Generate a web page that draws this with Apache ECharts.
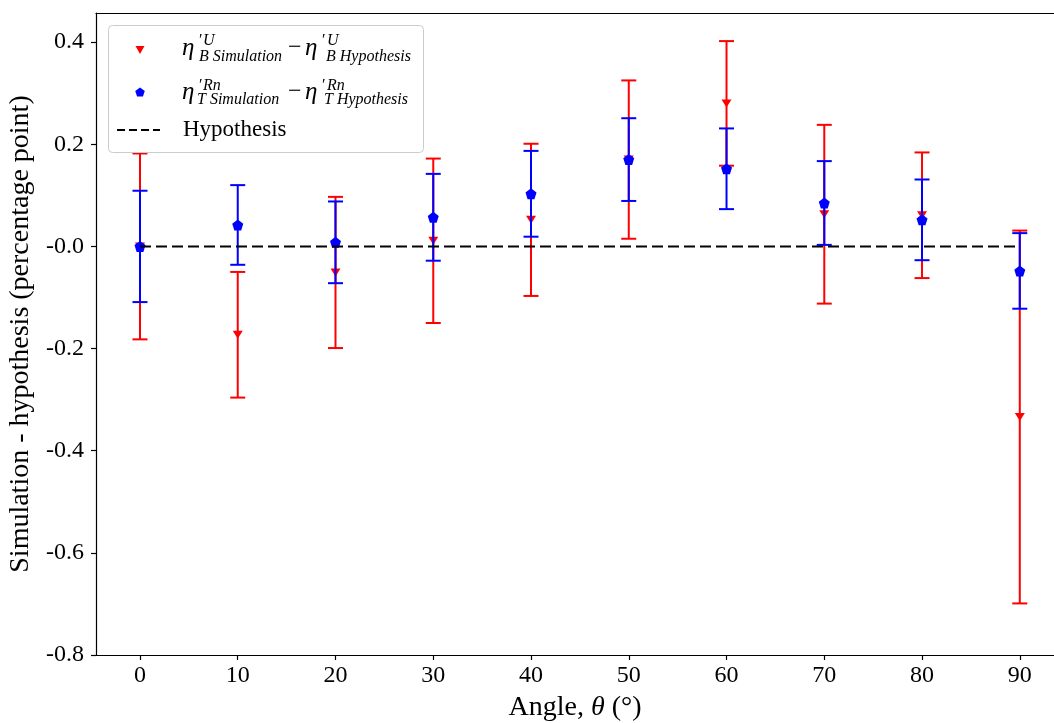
<!DOCTYPE html>
<html>
<head>
<meta charset="utf-8">
<script src="https://cdn.jsdelivr.net/npm/echarts@6/dist/echarts.min.js"></script>
<style>
html,body{margin:0;padding:0;background:#fff;}
#chart{width:1054px;height:723px;}
</style>
</head>
<body>
<div id="chart"></div>
<script>
// ---- data ----
const angles = [0, 10, 20, 30, 40, 50, 60, 70, 80, 90];
const uValues = [0.000, -0.173, -0.051, 0.011, 0.052, 0.170, 0.280, 0.063, 0.061, -0.334];
const uErrors = [0.182, 0.123, 0.148, 0.161, 0.149, 0.155, 0.122, 0.175, 0.123, 0.365];
const rnValues = [0.000, 0.042, 0.008, 0.057, 0.103, 0.170, 0.152, 0.085, 0.052, -0.048];
const rnErrors = [0.109, 0.078, 0.080, 0.085, 0.084, 0.081, 0.079, 0.082, 0.079, 0.074];
const hypothesisAngles = [0, 90];
const hypothesisValues = [0, 0];
const yTickValues = [-0.8, -0.6, -0.4, -0.2, 0, 0.2, 0.4];
const yTickLabels = ['-0.8', '-0.6', '-0.4', '-0.2', '-0.0', '0.2', '0.4'];
const xTickValues = [0, 10, 20, 30, 40, 50, 60, 70, 80, 90];

const FONT = '"Liberation Serif", "DejaVu Serif", serif';
const RED = '#ff0000';
const BLUE = '#0000ff';
const PENTAGON = 'path://M0,-1 L0.951,-0.309 L0.588,0.809 L-0.588,0.809 L-0.951,-0.309 Z';

function errData(vals, errs) {
  return angles.map((a, i) => [a, vals[i] - errs[i], vals[i] + errs[i]]);
}
function errRender(color) {
  return function (params, api) {
    const x = api.value(0);
    const lo = api.coord([x, api.value(1)]);
    const hi = api.coord([x, api.value(2)]);
    const hw = 7.5;
    const st = { stroke: color, lineWidth: 2 };
    return {
      type: 'group',
      children: [
        { type: 'line', shape: { x1: lo[0], y1: lo[1], x2: hi[0], y2: hi[1] }, style: st },
        { type: 'line', shape: { x1: lo[0] - hw, y1: lo[1], x2: lo[0] + hw, y2: lo[1] }, style: st },
        { type: 'line', shape: { x1: hi[0] - hw, y1: hi[1], x2: hi[0] + hw, y2: hi[1] }, style: st }
      ]
    };
  };
}

const chart = echarts.init(document.getElementById('chart'), null, { renderer: 'canvas' });

function txt(x, y, text, size, italic, align) {
  return {
    type: 'text', x: x, y: y, z: 101,
    style: {
      text: text, fill: '#000',
      font: (italic ? 'italic ' : '') + size + 'px ' + FONT,
      verticalAlign: 'middle', align: align || 'left'
    }
  };
}

function pentagonPoints(cx, cy, r) {
  const pts = [];
  for (let k = 0; k < 5; k++) {
    const a = -Math.PI / 2 + k * 2 * Math.PI / 5;
    pts.push([cx + r * Math.cos(a), cy + r * Math.sin(a)]);
  }
  return pts;
}

const legendGraphic = [
  { type: 'rect', z: 100, shape: { x: 108.5, y: 25.5, width: 315, height: 127, r: 4 },
    style: { fill: 'rgba(255,255,255,0.85)', stroke: '#cccccc', lineWidth: 1 } },
  { type: 'polygon', z: 101, shape: { points: [[135.5, 46], [144.5, 46], [140, 54]] }, style: { fill: RED } },
  { type: 'polygon', z: 101, shape: { points: pentagonPoints(140, 92.5, 5) }, style: { fill: BLUE } },
  { type: 'line', z: 101, shape: { x1: 117, y1: 130, x2: 160, y2: 130 },
    style: { stroke: '#000', lineWidth: 2, lineDash: [8, 4] } },
  // row 1
  txt(182, 48, 'η', 25, true),
  txt(199, 41, '′', 16, false),
  txt(203, 41, 'U', 16, true),
  txt(199, 57, 'B Simulation', 16, true),
  txt(288, 48, '−', 24, false),
  txt(305, 48, 'η', 25, true),
  txt(322, 41, '′', 16, false),
  txt(327, 41, 'U', 16, true),
  txt(326, 57, 'B Hypothesis', 16, true),
  // row 2
  txt(182, 92, 'η', 25, true),
  txt(199, 86, '′', 16, false),
  txt(203, 86, 'Rn', 16, true),
  txt(197, 100, 'T Simulation', 16, true),
  txt(288, 92, '−', 24, false),
  txt(305, 92, 'η', 25, true),
  txt(322, 86, '′', 16, false),
  txt(327, 86, 'Rn', 16, true),
  txt(324, 100, 'T Hypothesis', 16, true),
  // row 3
  txt(183, 130, 'Hypothesis', 23, false)
];

const option = {
  animation: false,
  backgroundColor: '#fff',
  textStyle: { fontFamily: FONT },
  grid: { left: 96, top: 13, bottom: 68, right: 0, show: false, outerBoundsMode: 'none', containLabel: false },
  xAxis: [{
    type: 'value', min: -4.5, max: 93.5,
    name: 'Angle, {i|θ} (°)', nameLocation: 'middle', nameGap: 39,
    nameTextStyle: { fontFamily: FONT, fontSize: 28, color: '#000', rich: { i: { fontFamily: FONT, fontSize: 28, fontStyle: 'italic', color: '#000' } } },
    axisLine: { show: true, onZero: false, lineStyle: { color: '#000', width: 1.2 } },
    axisTick: { show: true, inside: false, length: 5, lineStyle: { color: '#000', width: 1.2 }, customValues: xTickValues },
    axisLabel: { show: true, customValues: xTickValues, fontFamily: FONT, fontSize: 24, color: '#000', margin: 9 },
    splitLine: { show: false }
  }, {
    type: 'value', position: 'top', min: -4.5, max: 93.5,
    axisLine: { show: true, onZero: false, lineStyle: { color: '#000', width: 1.2 } },
    axisTick: { show: false }, axisLabel: { show: false }, splitLine: { show: false }
  }],
  yAxis: {
    type: 'value', min: -0.8, max: 0.457,
    name: 'Simulation - hypothesis (percentage point)', nameLocation: 'middle', nameGap: 55,
    nameTextStyle: { fontFamily: FONT, fontSize: 28, color: '#000' },
    axisLine: { show: true, onZero: false, lineStyle: { color: '#000', width: 1.2 } },
    axisTick: { show: true, inside: false, length: 5, lineStyle: { color: '#000', width: 1.2 }, customValues: yTickValues },
    axisLabel: {
      show: true, customValues: yTickValues, fontFamily: FONT, fontSize: 24, color: '#000', margin: 12,
      formatter: function (v) {
        const i = yTickValues.findIndex(t => Math.abs(t - v) < 1e-9);
        return i >= 0 ? yTickLabels[i] : '';
      }
    },
    splitLine: { show: false }
  },
  series: [
    { type: 'custom', name: 'U error', renderItem: errRender(RED), data: errData(uValues, uErrors), z: 2, silent: true, clip: false },
    { type: 'scatter', name: 'U', data: angles.map((a, i) => [a, uValues[i]]), symbol: 'triangle', symbolRotate: 180, symbolSize: [10, 8], itemStyle: { color: RED, opacity: 1 }, z: 3 },
    { type: 'custom', name: 'Rn error', renderItem: errRender(BLUE), data: errData(rnValues, rnErrors), z: 4, silent: true, clip: false },
    { type: 'scatter', name: 'Rn', data: angles.map((a, i) => [a, rnValues[i]]), symbol: PENTAGON, symbolSize: 11, itemStyle: { color: BLUE, opacity: 1 }, z: 5 },
    { type: 'line', name: 'Hypothesis', data: hypothesisAngles.map((a, i) => [a, hypothesisValues[i]]), showSymbol: false, symbol: 'none', lineStyle: { color: '#000', width: 2, type: [11, 5] }, z: 6 }
  ],
  graphic: legendGraphic
};
chart.setOption(option);
</script>
</body>
</html>
